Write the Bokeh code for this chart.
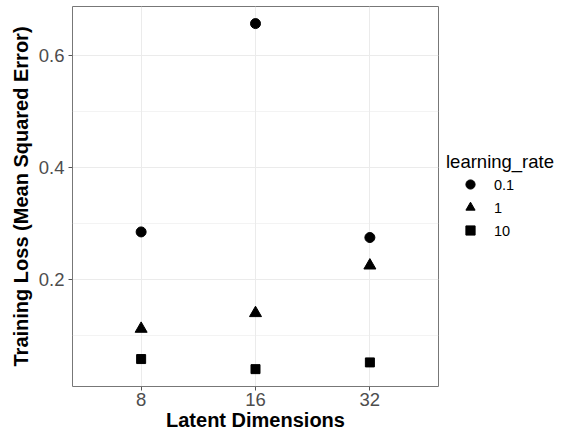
from bokeh.plotting import figure
from bokeh.models import Range1d, FactorRange, FixedTicker, Legend, LegendItem, ColumnDataSource
from bokeh.embed import file_html
from bokeh.resources import INLINE

# data
latent_dims = ["8", "16", "32"]
learning_rates = ["0.1", "1", "10"]
loss_lr_0_1 = [0.285, 0.657, 0.275]
loss_lr_1 = [0.112, 0.140, 0.225]
loss_lr_10 = [0.058, 0.040, 0.052]
y_ticks = [0.2, 0.4, 0.6]
y_minor = [0.1, 0.3, 0.5]

FONT = "Liberation Sans"

p = figure(
    width=568, height=436,
    frame_width=366, frame_height=380,
    x_range=FactorRange(factors=latent_dims, range_padding=0.1, range_padding_units="absolute"),
    y_range=Range1d(0.009, 0.6875),
    output_backend="svg", toolbar_location=None,
    min_border_left=72, min_border_right=130, min_border_top=6, min_border_bottom=50,
)
p.background_fill_color = "white"
p.border_fill_color = "white"
p.outline_line_color = "#777777"
p.outline_line_width = 1

# grids
p.xgrid.grid_line_color = "#EBEBEB"
p.xgrid.grid_line_width = 1
p.ygrid.grid_line_color = "#EBEBEB"
p.ygrid.grid_line_width = 1
p.ygrid.minor_grid_line_color = "#EBEBEB"
p.ygrid.minor_grid_line_width = 0.6

p.yaxis.ticker = FixedTicker(ticks=y_ticks, minor_ticks=y_minor)

for ax in (p.xaxis, p.yaxis):
    ax.axis_line_color = None
    ax.major_tick_line_color = "#555555"
    ax.major_tick_in = 0
    ax.major_tick_out = 4
    ax.minor_tick_line_color = None
    ax.major_label_text_font = FONT
    ax.major_label_text_font_size = "18.5px"
    ax.major_label_text_color = "#4D4D4D"
    ax.axis_label_text_font = FONT
    ax.axis_label_text_font_size = "20px"
    ax.axis_label_text_font_style = "bold"
    ax.axis_label_text_color = "black"

p.xaxis.axis_label = "Latent Dimensions"
p.yaxis.axis_label = "Training Loss (Mean Squared Error)"
p.xaxis.major_label_standoff = 2
p.xaxis.axis_label_standoff = 0
p.yaxis.major_label_standoff = 4
p.yaxis.axis_label_standoff = 4

src = ColumnDataSource(dict(dims=latent_dims, a=loss_lr_0_1, b=loss_lr_1, c=loss_lr_10))
r1 = p.scatter("dims", "a", source=src, marker="circle", size=10, color="black")
r2 = p.scatter("dims", "b", source=src, marker="triangle", size=12, color="black")
r3 = p.scatter("dims", "c", source=src, marker="square", size=9, color="black")

legend = Legend(
    items=[LegendItem(label=learning_rates[0], renderers=[r1]),
           LegendItem(label=learning_rates[1], renderers=[r2]),
           LegendItem(label=learning_rates[2], renderers=[r3])],
    title="learning_rate",
    location="center_left",
)
legend.margin = 0
legend.padding = 8
legend.border_line_alpha = 0
legend.background_fill_alpha = 0
legend.title_text_font = FONT
legend.title_text_font_size = "18.5px"
legend.title_text_font_style = "normal"
legend.title_text_color = "black"
legend.title_standoff = 0
legend.label_text_font = FONT
legend.label_text_font_size = "14.5px"
legend.label_text_color = "black"
legend.glyph_width = 48
legend.glyph_height = 23
legend.label_standoff = 0
legend.label_height = 23
legend.spacing = 0
p.add_layout(legend, "right")

open("out.html", "w").write(file_html(p, INLINE))
